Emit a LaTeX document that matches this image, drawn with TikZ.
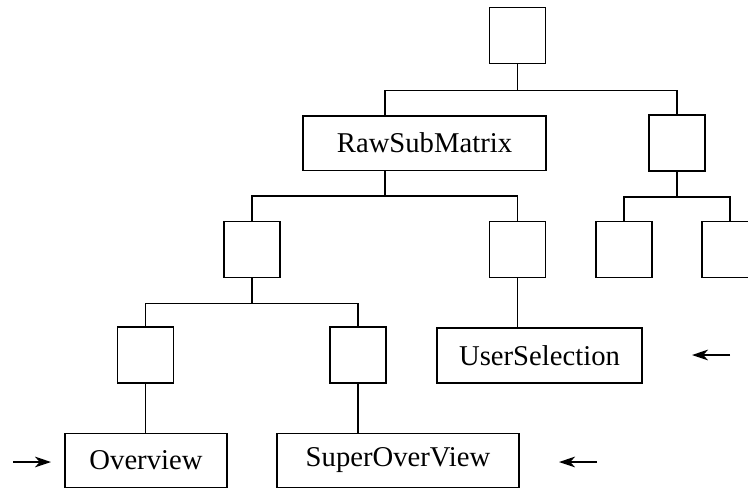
\documentclass[tikz,border=0pt]{standalone}
\usepackage{fontspec}
\setmainfont{Liberation Serif}
\usetikzlibrary{arrows.meta,calc}

\begin{document}
\begin{tikzpicture}[
  x=0.75pt, y=-0.75pt,
  link/.style={line width=1.25pt},
  marker/.style={-{Stealth[length=12pt, width=8pt, inset=3.5pt]}, line width=1.25pt},
  cell/.style={draw, line width=1.25pt, inner sep=0pt, minimum width=42pt, minimum height=42pt},
  tag/.style={cell, minimum height=41pt, font=\fontsize{21.5}{26}\selectfont}
]
\path[use as bounding box, clip] (0,0) rectangle (748,489);
\node[cell] (root) at (517.5,35.5) {};
\node[tag, minimum width=182pt] (raw) at (424.5,143) {RawSubMatrix};
\node[cell] (side) at (677,143) {};
\node[cell] (left) at (252,249.5) {};
\node[cell] (mid) at (517.5,249.5) {};
\node[cell] (sideA) at (624,249.5) {};
\node[cell] (sideB) at (730,249.5) {};
\node[cell] (low) at (145.5,355) {};
\node[cell] (high) at (358,355) {};
\node[tag, minimum width=154pt] (user) at (539.5,355.5) {UserSelection};
\node[tag, minimum width=121.5pt, minimum height=40.5pt] (over) at (146,460.5) {Overview};
\node[tag, minimum width=181.5pt, minimum height=40.5pt] (super) at (398,460.5) {SuperOverView};
\coordinate (rawtop) at ($(left.north)!0.5!(mid.north)$);
\draw[link] (root.south) -- ++(0,26) -| (rawtop |- raw.north);
\draw[link] (root.south) -- ++(0,26) -| (side.north);
\draw[link] (rawtop |- raw.south) -- ++(0,25) -| (left.north);
\draw[link] (rawtop |- raw.south) -- ++(0,25) -| (mid.north);
\draw[link] (side.south) -- ++(0,25) -| (sideA.north);
\draw[link] (side.south) -- ++(0,25) -| (sideB.north);
\draw[link] (left.south) -- ++(0,25) -| (low.north);
\draw[link] (left.south) -- ++(0,25) -| (high.north);
\draw[link] (mid.south) -- (mid.south |- user.north);
\draw[link] (low.south) -- (low.south |- over.north);
\draw[link] (high.south) -- (high.south |- super.north);
\coordinate (overtail) at (13,462);
\coordinate (overhead) at (51,462);
\coordinate (supertail) at (597,462);
\coordinate (superhead) at (559,462);
\coordinate (usertail) at (730,355);
\coordinate (userhead) at (692,355);
\draw[marker] (overtail) -- (overhead);
\draw[marker] (supertail) -- (superhead);
\draw[marker] (usertail) -- (userhead);
\end{tikzpicture}
\end{document}
